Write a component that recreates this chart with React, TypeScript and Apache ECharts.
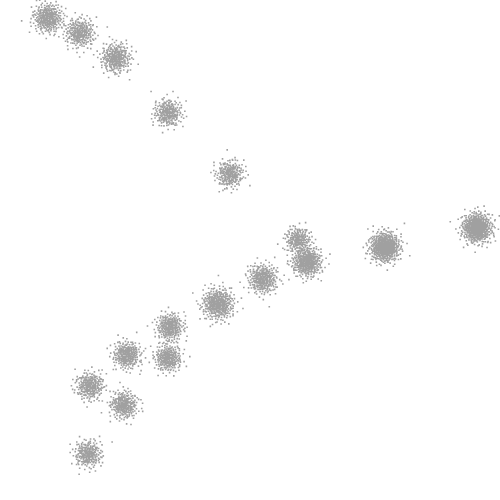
import React, { useEffect, useRef } from "react";
import * as echarts from "echarts";

// Cluster centres (in chart pixel units), spreads and point counts
const clusterX = [48, 80, 116, 168, 230, 298, 307, 385, 477, 263, 218, 170, 168, 127, 90, 124, 88];
const clusterY = [18, 33, 58, 113, 174, 240, 262, 247, 228, 279, 304, 327, 358, 355, 386, 405, 454];
const clusterSigma = [7.5, 7.5, 7.5, 7, 7, 6.5, 7.5, 7.5, 7.5, 7.5, 8, 7, 7, 7, 7, 7, 7];
const clusterCount = [300, 260, 300, 240, 240, 200, 380, 520, 520, 300, 380, 250, 250, 260, 260, 260, 230];

// Low-discrepancy (Halton) sequence used to lay points around each centre
function halton(i: number, base: number): number {
  let f = 1;
  let r = 0;
  let n = i;
  while (n > 0) {
    f = f / base;
    r = r + f * (n % base);
    n = Math.floor(n / base);
  }
  return r;
}

function buildPoints(): number[][] {
  const pts: number[][] = [];
  let k = 1;
  for (let c = 0; c < clusterX.length; c++) {
    for (let i = 0; i < clusterCount[c]; i++) {
      const u = Math.max(halton(k, 2), 1e-6);
      const v = halton(k, 3);
      k++;
      const r = clusterSigma[c] * Math.sqrt(-2 * Math.log(u));
      const a = 2 * Math.PI * v;
      pts.push([clusterX[c] + r * Math.cos(a), clusterY[c] + r * Math.sin(a)]);
    }
  }
  return pts;
}

export default function App() {
  const ref = useRef<HTMLDivElement>(null);
  useEffect(() => {
    if (!ref.current) return;
    const chart = echarts.init(ref.current, null, { renderer: "svg" });
    chart.setOption({
      animation: false,
      backgroundColor: "#ffffff",
      grid: { left: 0, right: 0, top: 0, bottom: 0 },
      xAxis: { type: "value", min: 0, max: 500, show: false },
      yAxis: { type: "value", min: 0, max: 500, inverse: true, show: false },
      series: [
        {
          type: "scatter",
          symbol: "rect",
          symbolSize: 1.6,
          large: true,
          largeThreshold: 2000,
          itemStyle: { color: "rgba(90,90,90,0.72)" },
          data: buildPoints(),
        },
      ],
    });
    return () => chart.dispose();
  }, []);
  return (
    <div
      ref={ref}
      style={{ position: "absolute", left: 0, top: 0, width: 500, height: 500 }}
    />
  );
}
